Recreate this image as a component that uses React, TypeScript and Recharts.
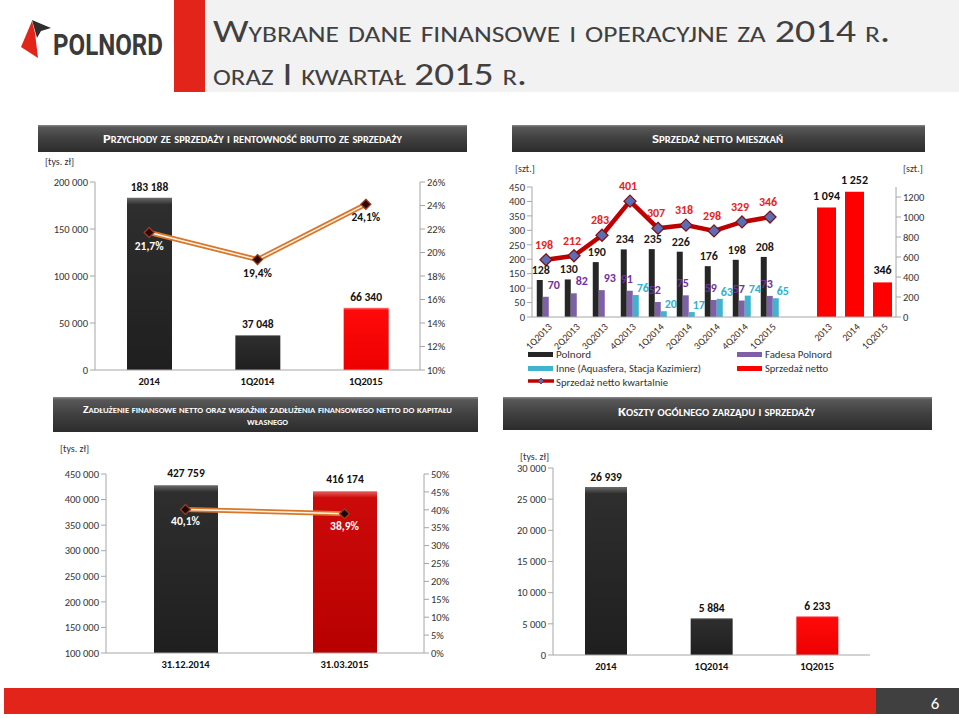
import React from "react";
import {
  ComposedChart,
  BarChart,
  Bar,
  Line,
  XAxis,
  YAxis,
  Cell,
  LabelList,
} from "recharts";

const FONT = "Carlito, Calibri, Lato, sans-serif";
const AXIS = "#a6a6a6";
const INK = "#262626";

// przychody ze sprzedaży i rentowność brutto
const revCats = ["2014", "1Q2014", "1Q2015"];
const revValues = [183188, 37048, 66340];
const revMargin = [21.7, 19.4, 24.1];
const revLeftTicks = [0, 50000, 100000, 150000, 200000];
const revRightTicks = [10, 12, 14, 16, 18, 20, 22, 24, 26];

// sprzedaż netto mieszkań - kwartalnie
const quarters = ["1Q2013", "2Q2013", "3Q2013", "4Q2013", "1Q2014", "2Q2014", "3Q2014", "4Q2014", "1Q2015"];
const polnord = [128, 130, 190, 234, 235, 226, 176, 198, 208];
const fadesa = [70, 82, 93, 91, 52, 75, 59, 57, 73];
const inne = [null, null, null, 76, 20, 17, 63, 74, 65];
const quarterly = [198, 212, 283, 401, 307, 318, 298, 329, 346];
const qTicks = [0, 50, 100, 150, 200, 250, 300, 350, 400, 450];

// sprzedaż netto mieszkań - rocznie
const years = ["2013", "2014", "1Q2015"];
const yearSales = [1094, 1252, 346];
const yTicks = [0, 200, 400, 600, 800, 1000, 1200];

// zadłużenie finansowe netto
const debtCats = ["31.12.2014", "31.03.2015"];
const debtValues = [427759, 416174];
const debtRatio = [40.1, 38.9];
const debtLeftTicks = [100000, 150000, 200000, 250000, 300000, 350000, 400000, 450000];
const debtRightTicks = [0, 5, 10, 15, 20, 25, 30, 35, 40, 45, 50];

// koszty ogólnego zarządu i sprzedaży
const costCats = ["2014", "1Q2014", "1Q2015"];
const costValues = [26939, 5884, 6233];
const costTicks = [0, 5000, 10000, 15000, 20000, 25000, 30000];

const fmt = (v: number) => String(v).replace(/\B(?=(\d{3})+(?!\d))/g, " ");
const fmtPct = (v: number) => `${v.toFixed(1).replace(".", ",")}%`;

const yTick = { fontSize: 10.5, fill: "#333", fontFamily: FONT };
const xTick = { fontSize: 10.5, fill: "#111", fontFamily: FONT, fontWeight: 700 };

function vbOf(p: any) {
  const vb = p.viewBox || {};
  return {
    x: vb.x ?? p.x ?? 0,
    y: vb.y ?? p.y ?? 0,
    w: vb.width ?? p.width ?? 0,
  };
}

const topLabel =
  (color: string, f: (v: number) => string, dy: number, dx: number | ((i: number) => number) = 0, size = 11.5) =>
  (p: any) => {
    if (p.value == null) return null;
    const { x, y, w } = vbOf(p);
    const shift = typeof dx === "function" ? dx(p.index) : dx;
    return (
      <text
        x={x + w / 2 + shift}
        y={y + dy}
        textAnchor="middle"
        fontFamily={FONT}
        fontSize={size}
        fontWeight={700}
        fill={color}
      >
        {f(p.value)}
      </text>
    );
  };

const pointLabel = (colors: string[], dy: number) => (p: any) => {
  if (p.value == null) return null;
  const { x, y } = vbOf(p);
  return (
    <text
      x={x}
      y={y + dy}
      textAnchor="middle"
      fontFamily={FONT}
      fontSize={11.5}
      fontWeight={700}
      fill={colors[p.index] ?? colors[0]}
    >
      {fmtPct(p.value)}
    </text>
  );
};

const diamond = (fill: string, stroke: string, r: number) => (p: any) => {
  const { cx, cy, index } = p;
  if (cx == null || cy == null) return <g key={`d-${index}`} />;
  return (
    <path
      key={`d-${index}`}
      d={`M${cx},${cy - r}L${cx + r},${cy}L${cx},${cy + r}L${cx - r},${cy}Z`}
      fill={fill}
      stroke={stroke}
      strokeWidth={1.3}
    />
  );
};

const RotTick = (p: any) => {
  const { x, y, payload } = p;
  return (
    <text
      x={x + 4}
      y={y}
      transform={`rotate(-45 ${x + 4} ${y})`}
      textAnchor="end"
      dominantBaseline="central"
      fontFamily={FONT}
      fontSize={10}
      fill="#333"
    >
      {payload.value}
    </text>
  );
};

function BarDefs({ id }: { id: string }) {
  return (
    <defs>
      <linearGradient id={`${id}-dark`} x1="0" y1="0" x2="0" y2="1">
        <stop offset="0" stopColor="#6a6a6a" />
        <stop offset="0.04" stopColor="#2e2e2e" />
        <stop offset="1" stopColor="#1f1f1f" />
      </linearGradient>
      <linearGradient id={`${id}-red`} x1="0" y1="0" x2="0" y2="1">
        <stop offset="0" stopColor="#ff8080" />
        <stop offset="0.04" stopColor="#ff0a0a" />
        <stop offset="1" stopColor="#ee0000" />
      </linearGradient>
      <linearGradient id={`${id}-deep`} x1="0" y1="0" x2="0" y2="1">
        <stop offset="0" stopColor="#e86060" />
        <stop offset="0.04" stopColor="#cc0a0a" />
        <stop offset="1" stopColor="#b80000" />
      </linearGradient>
    </defs>
  );
}

function RevenueChart() {
  const data = revCats.map((c, i) => ({ cat: c, value: revValues[i], margin: revMargin[i] }));
  const fills = ["url(#rv-dark)", "url(#rv-dark)", "url(#rv-red)"];
  return (
    <ComposedChart width={440} height={225} data={data} margin={{ top: 12, right: 0, bottom: 0, left: 0 }}>
      <BarDefs id="rv" />
      <XAxis dataKey="cat" tickLine={false} axisLine={{ stroke: AXIS }} tick={xTick} height={25} tickMargin={2} />
      <YAxis yAxisId="l" domain={[0, 200000]} ticks={revLeftTicks} interval={0} width={65}
        tick={yTick} tickFormatter={fmt} axisLine={{ stroke: AXIS }} tickLine={{ stroke: AXIS }} tickSize={5} />
      <YAxis yAxisId="r" orientation="right" domain={[10, 26]} ticks={revRightTicks} interval={0} width={50}
        tick={yTick} tickFormatter={(v: number) => `${v}%`} axisLine={{ stroke: AXIS }} tickLine={{ stroke: AXIS }} tickSize={5} />
      <Bar yAxisId="l" dataKey="value" barSize={45} isAnimationActive={false}>
        {data.map((d, i) => (
          <Cell key={d.cat} fill={fills[i]} />
        ))}
        <LabelList dataKey="value" content={topLabel("#111", fmt, -7)} />
      </Bar>
      <Line yAxisId="r" dataKey="margin" stroke="#d8772c" strokeWidth={5} dot={false} activeDot={false} isAnimationActive={false} />
      <Line yAxisId="r" dataKey="margin" stroke="#fff3e4" strokeWidth={1.5} dot={diamond("#2d0808", "#9c3b22", 5)}
        activeDot={false} isAnimationActive={false}>
        <LabelList dataKey="margin" content={pointLabel(["#ffffff", "#111", "#111"], 17)} />
      </Line>
    </ComposedChart>
  );
}

function QuarterChart() {
  const data = quarters.map((q, i) => ({
    q,
    polnord: polnord[i],
    fadesa: fadesa[i],
    inne: inne[i],
    total: quarterly[i],
  }));
  return (
    <ComposedChart width={302} height={195} data={data} margin={{ top: 27, right: 18, bottom: 0, left: 0 }}
      barGap={0} barCategoryGap="17%">
      <XAxis dataKey="q" interval={0} tickLine={false} axisLine={{ stroke: AXIS }} height={38}
        tick={(p: any) => <RotTick {...p} />} />
      <YAxis domain={[0, 450]} ticks={qTicks} interval={0} width={32} tick={yTick}
        axisLine={{ stroke: AXIS }} tickLine={{ stroke: AXIS }} tickSize={5} />
      <Bar dataKey="polnord" fill={INK} isAnimationActive={false}>
        <LabelList dataKey="polnord" content={topLabel("#1a1a1a", String, -6, 1, 12)} />
      </Bar>
      <Bar dataKey="fadesa" fill="#7d60a8" isAnimationActive={false}>
        <LabelList dataKey="fadesa"
          content={topLabel("#7030a0", String, -8, (i: number) => (inne[i] == null ? 8 : -3), 12)} />
      </Bar>
      <Bar dataKey="inne" fill="#40b3cf" isAnimationActive={false}>
        <LabelList dataKey="inne" content={topLabel("#2fb1d0", String, -3, 7, 12)} />
      </Bar>
      <Line dataKey="total" stroke="#c00000" strokeWidth={4.5} dot={diamond("#5d6db5", "#7a1616", 6)}
        activeDot={false} isAnimationActive={false}>
        <LabelList dataKey="total" content={(p: any) => {
          const { x, y } = vbOf(p);
          return (
            <text x={x - 2} y={y - 11} textAnchor="middle" fontFamily={FONT} fontSize={12} fontWeight={700} fill="#e8231b">
              {p.value}
            </text>
          );
        }} />
      </Line>
    </ComposedChart>
  );
}

function YearChart() {
  const data = years.map((y, i) => ({ y, v: yearSales[i] }));
  return (
    <BarChart width={156} height={195} data={data} margin={{ top: 27, right: 0, bottom: 0, left: 0 }}>
      <XAxis dataKey="y" interval={0} padding={{ left: 28, right: 0 }} tickLine={false} axisLine={{ stroke: AXIS }}
        height={38} tick={(p: any) => <RotTick {...p} />} />
      <YAxis orientation="right" domain={[0, 1300]} ticks={yTicks} interval={0} width={44} tick={yTick}
        axisLine={{ stroke: AXIS }} tickLine={{ stroke: AXIS }} tickSize={5} />
      <Bar dataKey="v" fill="#ff0000" barSize={19} isAnimationActive={false}>
        <LabelList dataKey="v" content={topLabel("#111", fmt, -8, 0, 12)} />
      </Bar>
    </BarChart>
  );
}

function DebtChart() {
  const data = debtCats.map((c, i) => ({ cat: c, value: debtValues[i], ratio: debtRatio[i] }));
  const fills = ["url(#db-dark)", "url(#db-deep)"];
  return (
    <ComposedChart width={440} height={220} data={data} margin={{ top: 14, right: 0, bottom: 0, left: 0 }}>
      <BarDefs id="db" />
      <XAxis dataKey="cat" tickLine={false} axisLine={{ stroke: AXIS }} tick={xTick} height={27} tickMargin={2} />
      <YAxis yAxisId="l" domain={[100000, 450000]} ticks={debtLeftTicks} interval={0} width={66}
        tick={yTick} tickFormatter={fmt} axisLine={{ stroke: AXIS }} tickLine={{ stroke: AXIS }} tickSize={5} />
      <YAxis yAxisId="r" orientation="right" domain={[0, 50]} ticks={debtRightTicks} interval={0} width={56}
        tick={yTick} tickFormatter={(v: number) => `${v}%`} axisLine={{ stroke: AXIS }} tickLine={{ stroke: AXIS }} tickSize={5} />
      <Bar yAxisId="l" dataKey="value" barSize={64} isAnimationActive={false}>
        {data.map((d, i) => (
          <Cell key={d.cat} fill={fills[i]} />
        ))}
        <LabelList dataKey="value" content={topLabel("#111", fmt, -8)} />
      </Bar>
      <Line yAxisId="r" dataKey="ratio" stroke="#d8772c" strokeWidth={5} dot={false} activeDot={false} isAnimationActive={false} />
      <Line yAxisId="r" dataKey="ratio" stroke="#fff3e4" strokeWidth={1.5} dot={diamond("#1e0606", "#9c3b22", 5)}
        activeDot={false} isAnimationActive={false}>
        <LabelList dataKey="ratio" content={pointLabel(["#ffffff"], 16)} />
      </Line>
    </ComposedChart>
  );
}

function CostChart() {
  const data = costCats.map((c, i) => ({ cat: c, value: costValues[i] }));
  const fills = ["url(#cs-dark)", "url(#cs-dark)", "url(#cs-red)"];
  return (
    <BarChart width={400} height={225} data={data} margin={{ top: 13, right: 20, bottom: 0, left: 0 }}>
      <BarDefs id="cs" />
      <XAxis dataKey="cat" tickLine={false} axisLine={{ stroke: AXIS }} tick={xTick} height={25} tickMargin={2} />
      <YAxis domain={[0, 30000]} ticks={costTicks} interval={0} width={63} tick={yTick} tickFormatter={fmt}
        axisLine={{ stroke: AXIS }} tickLine={{ stroke: AXIS }} tickSize={5} />
      <Bar dataKey="value" barSize={42} isAnimationActive={false}>
        {data.map((d, i) => (
          <Cell key={d.cat} fill={fills[i]} />
        ))}
        <LabelList dataKey="value" content={topLabel("#111", fmt, -6)} />
      </Bar>
    </BarChart>
  );
}

const sc = { fontVariant: "small-caps" as const };

export default function App() {
  return (
    <div style={{ position: "relative", width: 959, height: 718, background: "#fff", overflow: "hidden", fontFamily: FONT }}>
      <style>{"body{margin:0}"}</style>
      <svg width={959} height={718} style={{ position: "absolute", left: 0, top: 0 }}>
        <defs>
          <linearGradient id="bar-bg" x1="0" y1="0" x2="0" y2="1">
            <stop offset="0" stopColor="#8a8a8a" />
            <stop offset="0.08" stopColor="#585858" />
            <stop offset="0.5" stopColor="#404040" />
            <stop offset="1" stopColor="#2c2c2c" />
          </linearGradient>
        </defs>
        {/* header */}
        <rect x={205} y={0} width={754} height={92} fill="#f2f2f2" />
        <rect x={174} y={0} width={31} height={92} fill="#e3241b" />
        <polygon points="32,21 21,47 38,58 35,33" fill="#e3241b" />
        <polygon points="32,20 51,28 41,31 37,38" fill="#2e2e2e" />
        <text x={53} y={55} fontFamily="Roboto, sans-serif" fontWeight={700} fontSize={29} fill="#3a3a3a"
          textLength={110} lengthAdjust="spacingAndGlyphs">POLNORD</text>
        <text x={213} y={42} fontFamily={FONT} fontWeight={300} fontSize={32} fill="#404040" style={sc}
          textLength={677} lengthAdjust="spacingAndGlyphs">Wybrane dane finansowe i operacyjne za 2014 r.</text>
        <text x={213} y={85} fontFamily={FONT} fontWeight={300} fontSize={32} fill="#404040" style={sc}
          textLength={314} lengthAdjust="spacingAndGlyphs">oraz I kwartał 2015 r.</text>

        {/* panel title bars */}
        <rect x={38} y={125} width={429} height={27} fill="url(#bar-bg)" />
        <rect x={512} y={125} width={413} height={27} fill="url(#bar-bg)" />
        <rect x={53} y={397} width={425} height={35} fill="url(#bar-bg)" />
        <rect x={503} y={397} width={429} height={33} fill="url(#bar-bg)" />
        <g fontFamily={FONT} fontWeight={700} fill="#fff" style={sc}>
          <text x={103} y={143} fontSize={12.5} textLength={299} lengthAdjust="spacingAndGlyphs">
            Przychody ze sprzedaży i rentowność brutto ze sprzedaży
          </text>
          <text x={652} y={143} fontSize={12.5} textLength={131} lengthAdjust="spacingAndGlyphs">
            Sprzedaż netto mieszkań
          </text>
          <text x={83} y={413} fontSize={9.5} textLength={369} lengthAdjust="spacingAndGlyphs">
            Zadłużenie finansowe netto oraz wskaźnik zadłużenia finansowego netto do kapitału
          </text>
          <text x={247} y={425} fontSize={9.5} textLength={41} lengthAdjust="spacingAndGlyphs">
            własnego
          </text>
          <text x={618} y={416} fontSize={12.5} textLength={197} lengthAdjust="spacingAndGlyphs">
            Koszty ogólnego zarządu i sprzedaży
          </text>
        </g>

        {/* units */}
        <g fontFamily={FONT} fontSize={10} fill="#333">
          <text x={45} y={165}>[tys. zł]</text>
          <text x={515} y={172}>[szt.]</text>
          <text x={903} y={172}>[szt.]</text>
          <text x={60} y={452}>[tys. zł]</text>
          <text x={520} y={460}>[tys. zł]</text>
        </g>

        {/* legend of the flats chart */}
        <g fontFamily={FONT} fontSize={11} fill="#333">
          <rect x={528} y={352} width={25} height={5} fill={INK} />
          <text x={556} y={358} textLength={35} lengthAdjust="spacingAndGlyphs">Polnord</text>
          <rect x={737} y={352} width={25} height={5} fill="#7d60a8" />
          <text x={765} y={358} textLength={67} lengthAdjust="spacingAndGlyphs">Fadesa Polnord</text>
          <rect x={528} y={366} width={25} height={5} fill="#40b3cf" />
          <text x={556} y={372} textLength={145} lengthAdjust="spacingAndGlyphs">Inne (Aquasfera, Stacja Kazimierz)</text>
          <rect x={737} y={366} width={25} height={5} fill="#ff0000" />
          <text x={765} y={372} textLength={63} lengthAdjust="spacingAndGlyphs">Sprzedaż netto</text>
          <line x1={528} y1={381} x2={554} y2={381} stroke="#c00000" strokeWidth={3.5} />
          <path d="M541,378L544,381L541,384L538,381Z" fill="#5d6db5" stroke="#7a1616" strokeWidth={0.8} />
          <text x={556} y={386} textLength={112} lengthAdjust="spacingAndGlyphs">Sprzedaż netto kwartalnie</text>
        </g>

        {/* footer */}
        <rect x={4} y={688} width={872} height={26} fill="#e3241b" />
        <rect x={876} y={688} width={83} height={26} fill="#404040" />
        <text x={935} y={709} fontFamily={FONT} fontSize={17} fill="#fff" textAnchor="middle">6</text>
      </svg>

      <div style={{ position: "absolute", left: 30, top: 170 }}>
        <RevenueChart />
      </div>
      <div style={{ position: "absolute", left: 784, top: 160 }}>
        <YearChart />
      </div>
      <div style={{ position: "absolute", left: 500, top: 160 }}>
        <QuarterChart />
      </div>
      <div style={{ position: "absolute", left: 40, top: 460 }}>
        <DebtChart />
      </div>
      <div style={{ position: "absolute", left: 490, top: 455 }}>
        <CostChart />
      </div>
    </div>
  );
}
